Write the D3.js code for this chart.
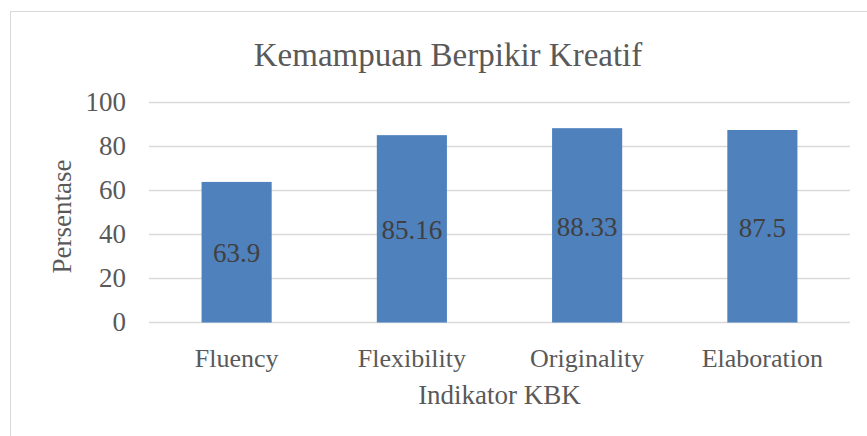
<!DOCTYPE html>
<html>
<head>
<meta charset="utf-8">
<script src="https://cdn.jsdelivr.net/npm/d3@7"></script>
<style>
  svg text { font-family: 'Times New Roman', 'Liberation Serif', Tinos !important; }
</style>
</head>
<body style="margin:0">
<script>
// data
var categories = ["Fluency", "Flexibility", "Originality", "Elaboration"];
var values = [63.9, 85.16, 88.33, 87.5];
var yTicks = [0, 20, 40, 60, 80, 100];

var W = 867, H = 436;
// plot area
var margin = {top: 102.5, right: 17, bottom: 113.5, left: 149},
width = W - margin.left - margin.right,
height = H - margin.top - margin.bottom;

var svg = d3.select("body")
.append("svg")
.attr("width", W)
.attr("height", H);

// chart frame
svg.append("rect")
.attr("x", 10.5).attr("y", 11.5)
.attr("width", W + 20).attr("height", H + 20)
.attr("fill", "none")
.attr("stroke", "#d9d9d9");

var g = svg.append("g")
.attr("transform", "translate(" + margin.left + "," + margin.top + ")");

var x = d3.scaleBand()
.domain(categories)
.range([0, width])
.paddingInner(0.6)
.paddingOuter(0.3);

var y = d3.scaleLinear()
.domain([0, 100])
.range([height, 0]);

// gridlines
g.append("g")
.selectAll("line")
.data(yTicks)
.enter()
.append("line")
  .attr("x1", 0).attr("x2", width)
  .attr("y1", function(d){ return y(d); })
  .attr("y2", function(d){ return y(d); })
  .attr("stroke", "#d9d9d9")
  .attr("stroke-width", 1.3);

// y tick labels
g.append("g")
.selectAll("text")
.data(yTicks)
.enter()
.append("text")
  .attr("x", -23)
  .attr("y", function(d){ return y(d); })
  .attr("dy", "0.33em")
  .attr("text-anchor", "end")
  .attr("fill", "#595959")
  .attr("font-size", 27)
  .text(function(d){ return d; });

// bars
g.append("g")
.selectAll("rect")
.data(values)
.enter()
.append("rect")
  .attr("x", function(d, i){ return x(categories[i]); })
  .attr("y", function(d){ return y(d); })
  .attr("width", x.bandwidth())
  .attr("height", function(d){ return height - y(d); })
  .attr("fill", "#4f81bd");

// value labels
g.append("g")
.selectAll("text")
.data(values)
.enter()
.append("text")
  .attr("x", function(d, i){ return x(categories[i]) + x.bandwidth() / 2; })
  .attr("y", function(d){ return (y(d) + height) / 2; })
  .attr("dy", "0.38em")
  .attr("text-anchor", "middle")
  .attr("fill", "#404040")
  .attr("font-size", 27)
  .text(function(d){ return d; });

// category labels
g.append("g")
.selectAll("text")
.data(categories)
.enter()
.append("text")
  .attr("x", function(d){ return x(d) + x.bandwidth() / 2; })
  .attr("y", height + 44)
  .attr("text-anchor", "middle")
  .attr("fill", "#595959")
  .attr("font-size", 26)
  .text(function(d){ return d; });

// title
svg.append("text")
.attr("x", 448)
.attr("y", 66)
.attr("text-anchor", "middle")
.attr("fill", "#595959")
.attr("font-size", 33)
.text("Kemampuan Berpikir Kreatif");

// axis titles
svg.append("text")
.attr("x", margin.left + width / 2)
.attr("y", 403.5)
.attr("text-anchor", "middle")
.attr("fill", "#595959")
.attr("font-size", 27)
.text("Indikator KBK");

svg.append("text")
.attr("transform", "translate(70.5,216.5) rotate(-90)")
.attr("text-anchor", "middle")
.attr("fill", "#595959")
.attr("font-size", 27)
.text("Persentase");
</script>
</body>
</html>
